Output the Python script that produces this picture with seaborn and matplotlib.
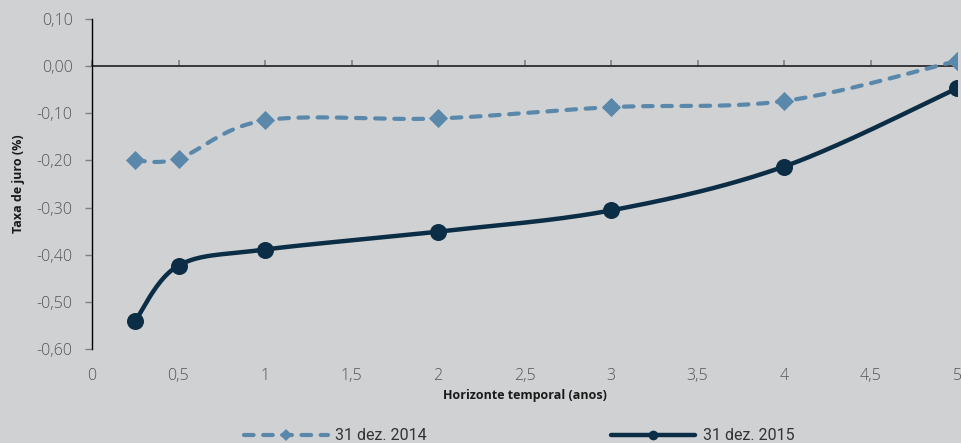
import numpy as np
import pandas as pd
import matplotlib
matplotlib.use("Agg")
import matplotlib.pyplot as plt
from matplotlib.lines import Line2D
import seaborn as sns

# Yield curve data (interest rate, %, by horizon in years)
horizon = [0.25, 0.5, 1, 2, 3, 4, 5]
rate_2014 = [-0.200, -0.196, -0.115, -0.111, -0.087, -0.074, 0.011]
rate_2015 = [-0.540, -0.423, -0.389, -0.351, -0.306, -0.213, -0.047]
series_names = ["31 dez. 2014", "31 dez. 2015"]
x_ticks = [0, 0.5, 1, 1.5, 2, 2.5, 3, 3.5, 4, 4.5, 5]
y_ticks = [-0.6, -0.5, -0.4, -0.3, -0.2, -0.1, 0.0, 0.1]

BG = "#d0d1d3"
C14 = "#5a88ab"
C15 = "#0b2d45"
TXT = "#555555"


def smooth_path(xs, ys, n=40):
    """Bezier smoothing through the points (spreadsheet-style smoothed line)."""
    p = np.column_stack([xs, ys]).astype(float)
    ext = np.vstack([p[0], p, p[-1]])
    out = []
    for i in range(len(p) - 1):
        p0, p1, p2, p3 = ext[i], ext[i + 1], ext[i + 2], ext[i + 3]
        c1 = p1 + (p2 - p0) / 6.0
        c2 = p2 - (p3 - p1) / 6.0
        t = np.linspace(0, 1, n)[:, None]
        seg = ((1 - t) ** 3) * p1 + 3 * ((1 - t) ** 2) * t * c1 + 3 * (1 - t) * t ** 2 * c2 + t ** 3 * p2
        out.append(seg if i == 0 else seg[1:])
    seg = np.vstack(out)
    return seg[:, 0], seg[:, 1]


sns.set_theme(style="white")
plt.rcParams["font.family"] = ["Open Sans", "DejaVu Sans"]

fig = plt.figure(figsize=(9.61, 4.43), dpi=100, facecolor=BG)
ax = fig.add_axes([92 / 961, 1 - 349 / 443, (957 - 92) / 961, (349 - 19) / 443])
ax.set_facecolor(BG)

df = pd.DataFrame({"horizon": horizon, series_names[0]: rate_2014, series_names[1]: rate_2015})

sx, sy = smooth_path(df["horizon"], df[series_names[0]])
ax.plot(sx, sy, color=C14, lw=3.0, dashes=(2.3, 2.3), dash_capstyle="round", zorder=2)
sns.scatterplot(data=df, x="horizon", y=series_names[0], marker="D", s=95, color=C14,
                edgecolor=C14, linewidth=0, ax=ax, zorder=3)

sx, sy = smooth_path(df["horizon"], df[series_names[1]])
ax.plot(sx, sy, color=C15, lw=3.2, solid_capstyle="round", zorder=4)
sns.scatterplot(data=df, x="horizon", y=series_names[1], marker="o", s=150, color=C15,
                edgecolor=C15, linewidth=0, ax=ax, zorder=5)

ax.set_xlim(0, 5)
ax.set_ylim(-0.6, 0.1)
ax.set_xticks(x_ticks)
ax.set_xticklabels([f"{v:g}".replace(".", ",") for v in x_ticks])
ax.set_yticks(y_ticks)
ax.set_yticklabels([f"{v:.2f}".replace(".", ",") for v in y_ticks])

for s in ["top", "right", "bottom"]:
    ax.spines[s].set_visible(False)
ax.spines["left"].set_color("black")
ax.spines["left"].set_linewidth(1.0)
ax.tick_params(axis="y", left=True, length=5, width=1, color="#808080", pad=9,
               labelsize=11.5, labelcolor=TXT)
ax.tick_params(axis="x", bottom=False, length=0, pad=14, labelsize=11.5, labelcolor=TXT)
for lab in ax.get_xticklabels() + ax.get_yticklabels():
    lab.set_fontweight("light")

# zero line carrying the x tick marks
zero_frac = (0 - (-0.6)) / 0.7
sec = ax.secondary_xaxis(zero_frac)
sec.set_xticks(x_ticks)
sec.set_xticklabels([])
sec.spines["bottom"].set_color("black")
sec.spines["bottom"].set_linewidth(1.0)
sec.tick_params(axis="x", direction="out", length=4, width=1.2, color="#808080")

ax.set_xlabel("Horizonte temporal (anos)", fontsize=9, fontweight="bold", color="#1a1a1a", labelpad=3)
ax.set_ylabel("Taxa de juro (%)", fontsize=9, fontweight="bold", color="#1a1a1a", labelpad=8)

handles = [
    Line2D([], [], color=C14, lw=3.0, dashes=(2.3, 2.3), dash_capstyle="round",
           marker="D", markersize=6, markeredgewidth=0),
    Line2D([], [], color=C15, lw=3.2, marker="o", markersize=7, markeredgewidth=0),
]
fig.legend(handles, series_names, loc="center", bbox_to_anchor=(0.54, 0.016), ncol=2,
           frameon=False, handlelength=5.3, handletextpad=0.45, columnspacing=11.5,
           prop={"family": ["Roboto", "DejaVu Sans"], "size": 11.5}, labelcolor="#333333")

fig.savefig("out.png", dpi=100, facecolor=BG)
